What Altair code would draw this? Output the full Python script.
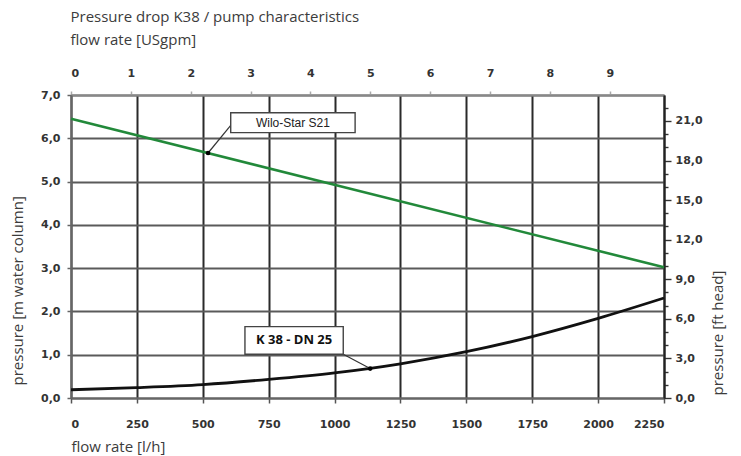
import altair as alt
import pandas as pd

# ---- data ----
flow_lh = [0, 250, 500, 750, 1000, 1250, 1500, 1750, 2000, 2250]
k38_m = [0.19, 0.24, 0.31, 0.43, 0.58, 0.79, 1.07, 1.42, 1.84, 2.31]
wilo_flow = [0, 2250]
wilo_m = [6.45, 3.02]

x_ticks_lh = [0, 250, 500, 750, 1000, 1250, 1500, 1750, 2000, 2250]
y_ticks_m = [0, 1, 2, 3, 4, 5, 6, 7]
x_ticks_gpm = [0, 1, 2, 3, 4, 5, 6, 7, 8, 9]
y_ticks_ft = list(range(0, 23))

LH_PER_GPM = 227.125
FT_PER_M = 3.28084
X_MAX = 2250
Y_MAX = 7.0

# annotations (data units)
ann_labels = ["Wilo-Star S21", "K 38 - DN 25"]
ann_point_flow = [520, 1135]
ann_point_m = [5.66, 0.68]
ann_box_flow = [606, 660]
ann_box_flow2 = [1078, 1033]
ann_box_m = [6.59, 1.65]
ann_box_m2 = [6.13, 1.01]
ann_leader_flow = [606, 1033]
ann_leader_m = [6.30, 1.01]

# ---- tables ----
k38 = pd.DataFrame({"flow": flow_lh, "m": k38_m})
wilo = pd.DataFrame({"flow": wilo_flow, "m": wilo_m})
boxes = pd.DataFrame({"flow": ann_box_flow, "flow2": ann_box_flow2,
                      "m": ann_box_m, "m2": ann_box_m2, "label": ann_labels})
leaders = pd.DataFrame({"flow": ann_leader_flow, "m": ann_leader_m,
                        "flow2": ann_point_flow, "m2": ann_point_m})
points = pd.DataFrame({"flow": ann_point_flow, "m": ann_point_m})
texts = pd.DataFrame({"flow": [(a + b) / 2 for a, b in zip(ann_box_flow, ann_box_flow2)],
                      "m": [(a + b) / 2 for a, b in zip(ann_box_m, ann_box_m2)],
                      "label": ann_labels})
sec = pd.DataFrame({"gpm": [0, X_MAX / LH_PER_GPM], "ft": [0, Y_MAX * FT_PER_M]})

LABEL_FONT = "DejaVu Sans"
TITLE_FONT = "Open Sans"
TITLE_COLOR = "#3c3c3c"
comma = "replace(format(datum.value, '.1f'), '.', ',')"

X = alt.X("flow:Q",
          scale=alt.Scale(domain=[0, X_MAX], nice=False, zero=False),
          axis=alt.Axis(values=x_ticks_lh, format="d", orient="bottom",
                        grid=True, gridColor="#2a2a2a", gridWidth=2,
                        domain=True, domainColor="#666", domainWidth=2,
                        ticks=True, tickColor="#555", tickSize=5, tickWidth=1.5,
                        labelFont=LABEL_FONT, labelFontWeight="bold", labelFontSize=11,
                        labelColor="#333", labelPadding=15,
                        title="flow rate [l/h]", titleX=0, titleY=53,
                        titleAlign="left", titleBaseline="alphabetic",
                        titleFont=TITLE_FONT, titleFontSize=15, titleFontWeight="normal",
                        titleColor=TITLE_COLOR))
Y = alt.Y("m:Q",
          scale=alt.Scale(domain=[0, Y_MAX], nice=False, zero=False),
          axis=alt.Axis(values=y_ticks_m, labelExpr=comma, orient="left",
                        grid=True, gridColor="#5a5a5a", gridWidth=2,
                        domain=True, domainColor="#666", domainWidth=2,
                        ticks=True, tickColor="#666", tickSize=4, tickWidth=1.5,
                        labelFont=LABEL_FONT, labelFontWeight="bold", labelFontSize=11,
                        labelColor="#333", labelPadding=7,
                        title="pressure [m water column]", titleX=-49, titleY=290,
                        titleAngle=270, titleAlign="left", titleBaseline="alphabetic",
                        titleFont=TITLE_FONT, titleFontSize=15, titleFontWeight="normal",
                        titleColor=TITLE_COLOR))

k38_line = alt.Chart(k38).mark_line(color="#111", strokeWidth=2.8,
                                    interpolate="monotone").encode(x=X, y=Y)
wilo_line = alt.Chart(wilo).mark_line(color="#22893a", strokeWidth=2.6).encode(x=X, y=Y)
leader_rules = alt.Chart(leaders).mark_rule(color="#333", strokeWidth=1.2).encode(
    x=X, y=Y, x2=alt.X2("flow2:Q"), y2=alt.Y2("m2:Q"))
pts = alt.Chart(points).mark_point(filled=True, color="#000", size=22, opacity=1).encode(x=X, y=Y)
box_marks = alt.Chart(boxes).mark_rect(fill="white", stroke="#444", strokeWidth=1.4).encode(
    x=X, y=Y, x2=alt.X2("flow2:Q"), y2=alt.Y2("m2:Q"))
text_wilo = alt.Chart(texts[texts.label == ann_labels[0]]).mark_text(
    font="Liberation Sans", fontSize=12, color="#222", align="center", baseline="middle"
).encode(x=X, y=Y, text="label:N")
text_k38 = alt.Chart(texts[texts.label == ann_labels[1]]).mark_text(
    font=TITLE_FONT, fontSize=13, fontWeight="bold", color="#111", align="center",
    baseline="middle"
).encode(x=X, y=Y, text="label:N")

main = alt.layer(wilo_line, k38_line, leader_rules, pts, box_marks, text_wilo, text_k38)

secondary = alt.Chart(sec).mark_point(opacity=0).encode(
    x=alt.X("gpm:Q", scale=alt.Scale(domain=[0, X_MAX / LH_PER_GPM], nice=False, zero=False),
            axis=alt.Axis(values=x_ticks_gpm, format="d", orient="top", grid=False,
                          domain=True, domainColor="#888", domainWidth=2,
                          ticks=True, tickColor="#aaa", tickSize=4, tickWidth=1.5,
                          labelFont=LABEL_FONT, labelFontWeight="bold", labelFontSize=11,
                          labelColor="#333", labelPadding=13,
                          title=["Pressure drop K38 / pump characteristics", "flow rate [USgpm]"],
                          titleX=-1, titleY=-74, titleAlign="left", titleBaseline="alphabetic",
                          titleLineHeight=23,
                          titleFont=TITLE_FONT, titleFontSize=15, titleFontWeight="normal",
                          titleColor=TITLE_COLOR)),
    y=alt.Y("ft:Q", scale=alt.Scale(domain=[0, Y_MAX * FT_PER_M], nice=False, zero=False),
            axis=alt.Axis(values=y_ticks_ft, labelExpr="datum.value % 3 === 0 ? " + comma + " : ''",
                          orient="right", grid=False,
                          domain=True, domainColor="#222", domainWidth=2,
                          ticks=True, tickColor="#333", tickWidth=1.4,
                          tickSize={"condition": {"test": "datum.value % 3 === 0", "value": 7}, "value": 4},
                          labelFont=LABEL_FONT, labelFontWeight="bold", labelFontSize=11,
                          labelColor="#333", labelPadding=4,
                          title="pressure [ft head]", titleX=58, titleY=300,
                          titleAngle=270, titleAlign="left", titleBaseline="alphabetic",
                          titleFont=TITLE_FONT, titleFontSize=15, titleFontWeight="normal",
                          titleColor=TITLE_COLOR)),
)

chart = alt.layer(main, secondary).resolve_scale(x="independent", y="independent").properties(
    width=593, height=303, autosize="none",
    padding={"left": 63, "top": 87, "right": 69, "bottom": 57},
    background="white",
).configure_view(strokeWidth=0)

chart.save("out.html", embed_options={"renderer": "svg", "actions": False})
